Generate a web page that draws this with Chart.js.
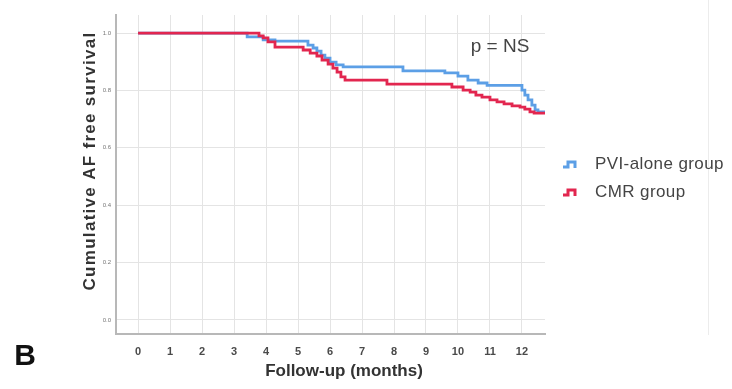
<!DOCTYPE html>
<html>
<head>
<meta charset="utf-8">
<script src="https://cdn.jsdelivr.net/npm/chart.js@4"></script>
<style>
html, body { margin: 0; padding: 0; background: #fff; }
</style>
</head>
<body>
<canvas id="kmChart" width="732" height="389"></canvas>
<script>
// Kaplan-Meier steps: time of each drop (months) and survival after it
var pviTimes = [0, 3.41, 3.91, 4.28, 5.31, 5.47, 5.59, 5.72, 5.84, 6.0, 6.19, 6.41, 8.28, 9.59, 10.0, 10.31, 10.63, 10.91, 12.0, 12.09, 12.19, 12.31, 12.41, 12.5, 12.72];
var pviSurv = [1.0, 0.987, 0.976, 0.972, 0.958, 0.948, 0.937, 0.923, 0.913, 0.899, 0.889, 0.882, 0.868, 0.861, 0.850, 0.836, 0.826, 0.818, 0.801, 0.784, 0.767, 0.749, 0.732, 0.725, 0.725];

var cmrTimes = [0, 3.78, 3.91, 4.06, 4.28, 5.16, 5.38, 5.59, 5.75, 5.94, 6.09, 6.22, 6.34, 6.47, 7.78, 9.81, 10.16, 10.38, 10.56, 10.75, 11.0, 11.22, 11.44, 11.69, 11.94, 12.09, 12.25, 12.38, 12.72];
var cmrSurv = [1.0, 0.990, 0.983, 0.969, 0.951, 0.941, 0.930, 0.920, 0.906, 0.892, 0.878, 0.864, 0.847, 0.836, 0.822, 0.812, 0.801, 0.794, 0.784, 0.777, 0.767, 0.760, 0.753, 0.746, 0.742, 0.735, 0.725, 0.721, 0.721];

var groupNames = ['PVI-alone group', 'CMR group'];
var groupColors = ['#5c9fe6', '#e2264f'];

var xTicks = [0, 1, 2, 3, 4, 5, 6, 7, 8, 9, 10, 11, 12];
var yTicks = [0, 0.2, 0.4, 0.6, 0.8, 1.0];

var xTitle = 'Follow-up (months)';
var yTitle = 'Cumulative AF free survival';
var pText = 'p = NS';
var panelLetter = 'B';

function toPoints(times, surv) {
	return times.map(function (t, i) { return { x: t, y: surv[i] }; });
}

var FONT = '"Liberation Sans", Arial, sans-serif';

// titles, annotation, panel letter and step-icon legend
var decorations = {
	id: 'decorations',
	afterDraw: function (chart) {
		var ctx = chart.ctx;
		ctx.save();

		ctx.strokeStyle = '#ececec';
		ctx.lineWidth = 1;
		ctx.beginPath();
		ctx.moveTo(708.5, 0);
		ctx.lineTo(708.5, 335);
		ctx.stroke();

		ctx.fillStyle = '#333';
		ctx.textAlign = 'center';
		ctx.textBaseline = 'middle';

		ctx.save();
		ctx.translate(90, 161);
		ctx.rotate(-Math.PI / 2);
		ctx.font = 'bold 17px ' + FONT;
		ctx.letterSpacing = '1.3px';
		ctx.fillText(yTitle, 0, 0);
		ctx.restore();

		ctx.font = 'bold 17px ' + FONT;
		ctx.fillText(xTitle, 344, 371);

		ctx.fillStyle = '#111';
		ctx.font = 'bold 30px ' + FONT;
		ctx.fillText(panelLetter, 25, 357);

		ctx.fillStyle = '#444';
		ctx.font = '19px ' + FONT;
		ctx.fillText(pText, 500, 47);

		ctx.textAlign = 'left';
		ctx.font = '17px ' + FONT;
		ctx.letterSpacing = '0.4px';
		var rows = [164, 192];
		for (var i = 0; i < groupNames.length; i++) {
			var cy = rows[i];
			ctx.strokeStyle = groupColors[i];
			ctx.lineWidth = 3;
			ctx.beginPath();
			ctx.moveTo(563, cy + 3);
			ctx.lineTo(568, cy + 3);
			ctx.lineTo(568, cy - 2);
			ctx.lineTo(575, cy - 2);
			ctx.lineTo(575, cy + 4);
			ctx.stroke();
			ctx.fillStyle = '#444';
			ctx.fillText(groupNames[i], 595, cy);
		}
		ctx.restore();
	}
};

var chart = new Chart(document.getElementById('kmChart'), {
	type: 'line',
	data: {
		datasets: [{
			label: groupNames[0],
			data: toPoints(pviTimes, pviSurv),
			borderColor: groupColors[0],
			borderWidth: 2.8,
			stepped: 'before',
			pointRadius: 0,
			order: 1
		}, {
			label: groupNames[1],
			data: toPoints(cmrTimes, cmrSurv),
			borderColor: groupColors[1],
			borderWidth: 2.8,
			stepped: 'before',
			pointRadius: 0,
			order: 0
		}]
	},
	options: {
		responsive: false,
		animation: false,
		layout: { padding: { top: 15, right: 187, left: 0, bottom: 0 } },
		plugins: {
			legend: { display: false },
			tooltip: { enabled: false }
		},
		scales: {
			x: {
				type: 'linear',
				min: -0.69,
				max: 12.72,
				afterBuildTicks: function (s) { s.ticks = xTicks.map(function (v) { return { value: v }; }); },
				afterFit: function (s) { s.height = 55; },
				grid: { color: '#e4e4e4', drawTicks: false },
				border: { color: '#b8b8b8', width: 2 },
				ticks: {
					padding: 11,
					color: '#4a4a4a',
					font: { family: FONT, size: 11, weight: 'bold' },
					callback: function (v) { return String(v); }
				}
			},
			y: {
				type: 'linear',
				min: -0.049,
				max: 1.063,
				afterBuildTicks: function (s) { s.ticks = yTicks.map(function (v) { return { value: v }; }); },
				afterFit: function (s) { s.width = 116; },
				grid: { color: '#e4e4e4', drawTicks: false },
				border: { color: '#b8b8b8', width: 2 },
				ticks: {
					padding: 5,
					color: '#777',
					font: { family: FONT, size: 6 },
					callback: function (v) { return v.toFixed(1); }
				}
			}
		}
	},
	plugins: [decorations]
});
</script>
</body>
</html>
